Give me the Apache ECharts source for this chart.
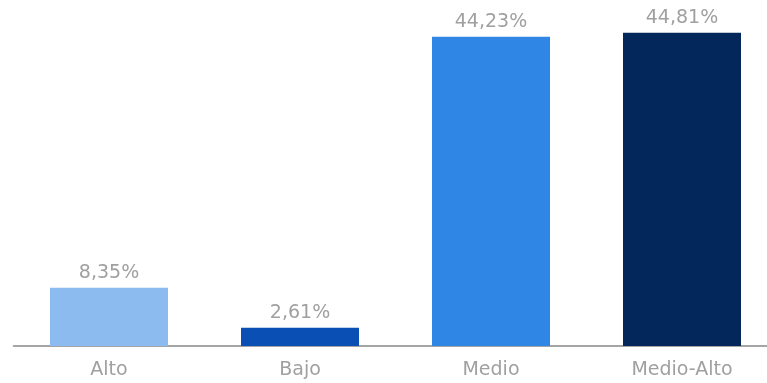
<!DOCTYPE html>
<html><head><meta charset="utf-8">
<script src="https://cdn.jsdelivr.net/npm/echarts@6/dist/echarts.min.js"></script>
<style>html,body{margin:0;padding:0;background:#fff}#c{width:767px;height:383px}</style>
</head><body><div id="c"></div>
<script>
const categories = ['Alto', 'Bajo', 'Medio', 'Medio-Alto'];
const values = [8.35, 2.61, 44.23, 44.81];
const colors = ['#8cbbf0', '#0a50b4', '#2f86e4', '#03275a'];
const chart = echarts.init(document.getElementById('c'));
chart.setOption({
  animation: false,
  grid: { left: 13.5, top: 0, right: -10.5, bottom: 37, containLabel: false, outerBoundsMode: 'none' },
  xAxis: {
    type: 'category', data: categories,
    axisLine: { lineStyle: { color: '#888', width: 1.5 } },
    axisTick: { show: false },
    axisLabel: { color: '#a0a0a0', fontSize: 19, fontFamily: 'DejaVu Sans', margin: 15 }
  },
  yAxis: { type: 'value', min: 0, max: 49.5, show: false, splitLine: { show: false } },
  series: [{
    type: 'bar', barWidth: 118,
    data: values.map((v, i) => ({ value: v, itemStyle: { color: colors[i] } })),
    label: {
      show: true, position: 'top', distance: 5, color: '#a0a0a0', fontSize: 19, fontFamily: 'DejaVu Sans',
      formatter: p => p.value.toFixed(2).replace('.', ',') + '%'
    }
  }]
});
</script></body></html>
